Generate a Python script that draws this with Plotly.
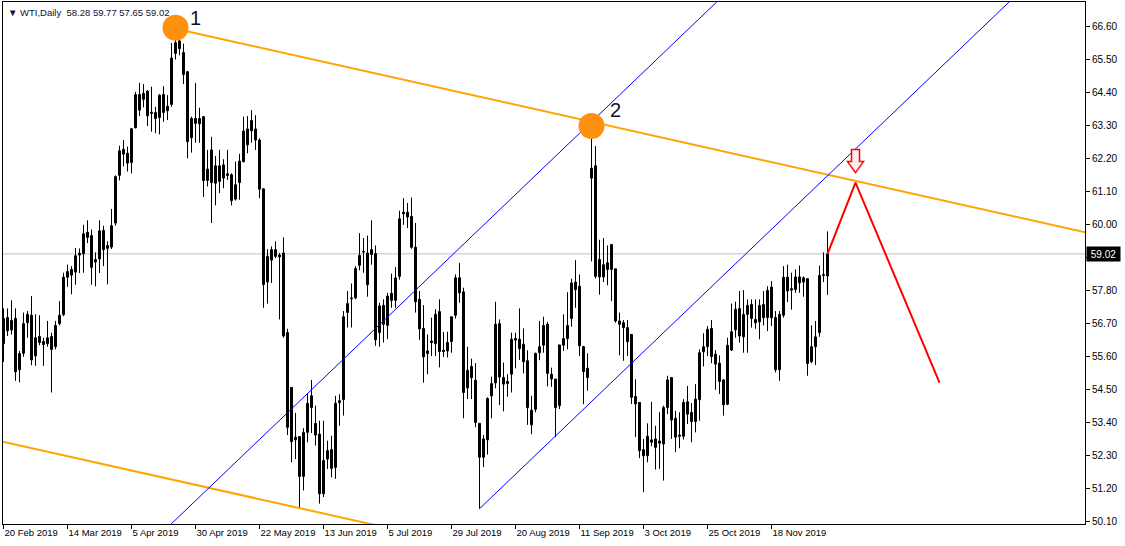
import plotly.graph_objects as go

# ---------------- data ----------------
opens = [56.02,56.89,56.48,56.86,55.15,55.70,56.72,56.97,55.61,56.26,56.09,56.02,56.26,55.92,56.69,56.99,58.24,58.50,58.41,58.98,
         59.02,59.74,59.63,58.75,58.85,59.80,59.20,59.25,60.05,61.64,62.51,62.38,62.07,63.23,64.34,64.18,64.45,63.75,63.74,63.57,
         64.34,63.80,64.01,65.71,66.13,65.74,65.10,62.90,63.54,63.36,63.60,61.47,61.40,61.96,61.44,61.99,61.69,61.66,60.85,61.40,
         62.10,62.66,63.47,62.82,62.82,61.19,58.08,58.81,59.16,58.98,59.05,56.39,54.56,52.90,52.92,51.59,53.06,54.28,53.36,53.00,
         51.01,52.17,52.48,51.89,54.05,54.15,57.06,57.52,57.55,58.64,59.08,59.05,59.16,59.03,56.39,57.30,56.63,57.70,57.47,58.27,
         60.41,60.41,60.27,59.24,57.50,56.53,55.69,56.11,56.02,57.09,55.80,55.78,56.09,56.97,58.22,57.75,54.54,55.26,54.80,53.36,
         52.23,52.81,54.28,54.71,56.69,54.89,54.69,55.00,56.14,56.17,56.00,55.45,53.31,53.83,55.72,55.97,56.67,55.00,54.84,53.95,
         55.97,56.19,56.86,58.08,57.94,55.92,55.20,61.55,61.96,58.83,58.25,58.72,59.33,58.52,56.78,56.72,56.56,56.33,54.26,54.06,
         52.48,52.28,52.73,52.84,52.77,52.67,53.89,54.89,53.53,52.97,52.93,54.08,53.73,53.42,54.15,55.75,55.92,56.53,55.67,55.37,
         54.81,54.00,55.81,56.48,57.19,56.25,57.00,57.33,56.83,56.75,57.33,56.89,57.91,56.89,55.15,56.97,58.24,57.81,57.83,58.25,
         58.08,58.19,55.42,55.92,56.39,58.33,58.28]
highs = [57.20,57.20,57.47,57.20,55.78,57.06,57.11,57.61,57.00,56.97,56.22,56.78,56.39,56.78,57.44,58.39,58.66,58.61,59.22,59.20,
         59.99,60.14,59.83,59.07,60.14,59.96,59.44,60.52,61.64,62.63,62.82,62.60,63.21,64.43,64.73,64.69,64.49,64.60,63.93,64.35,
         64.62,64.32,66.06,66.54,66.37,66.04,65.13,63.60,64.73,63.90,63.62,62.49,62.93,62.29,62.49,62.18,62.49,61.71,62.10,62.36,
         63.60,63.62,63.82,63.65,62.88,61.21,59.18,59.27,59.44,59.05,59.57,56.52,54.56,53.71,52.92,53.20,54.37,54.81,53.95,53.45,
         53.45,52.78,52.95,54.28,54.33,57.11,57.78,58.03,58.61,59.71,59.55,59.63,60.14,59.30,57.39,57.50,57.72,58.36,58.58,60.46,
         60.88,60.72,60.90,60.05,57.78,57.31,56.33,56.89,57.17,57.50,56.41,56.42,56.92,58.33,58.72,57.89,55.92,55.52,55.37,53.36,
         52.97,54.23,54.92,57.42,56.83,55.39,55.00,56.39,56.39,57.20,56.53,55.80,54.28,55.72,56.78,56.92,56.75,55.22,54.84,55.98,
         57.00,57.74,58.19,58.81,58.33,55.95,55.70,63.43,62.62,59.49,59.55,59.30,59.33,58.52,57.06,56.81,56.81,56.33,54.83,54.06,
         52.84,53.36,54.08,53.28,53.73,53.95,54.95,54.91,53.78,53.73,54.17,54.61,54.04,54.67,55.83,56.37,56.61,56.81,55.81,55.63,
         54.84,56.22,57.36,57.42,57.78,57.81,57.50,57.50,57.50,57.50,57.78,57.94,58.11,57.11,57.11,58.61,58.66,58.39,58.50,58.63,
         58.27,58.19,56.63,56.78,58.63,59.07,59.77]
lows = [55.41,56.28,56.33,54.78,54.73,55.58,56.22,55.30,55.28,55.97,55.28,55.92,54.39,55.83,56.63,56.94,57.92,57.67,57.99,58.38,
        58.39,59.38,57.99,57.94,58.38,58.61,58.00,59.18,59.96,61.47,61.94,61.77,61.71,63.21,63.62,63.91,63.29,63.10,63.05,63.01,
        63.43,63.49,63.93,65.51,65.65,64.69,62.21,62.40,62.73,62.73,60.92,61.27,60.05,60.64,61.05,61.21,61.49,60.64,60.80,60.83,
        62.07,62.38,62.73,62.49,60.88,57.22,57.36,58.05,58.88,56.83,56.22,52.97,52.06,52.17,50.53,51.12,52.73,53.04,52.62,50.68,
        50.90,51.84,51.56,51.51,53.28,53.62,56.56,56.56,57.50,58.47,58.39,57.59,58.66,55.95,55.92,56.06,56.17,57.22,57.22,58.16,
        59.99,59.88,59.19,57.06,56.15,54.72,55.00,55.61,55.61,55.23,55.58,55.56,55.72,56.86,57.39,53.53,54.17,54.17,53.23,50.51,
        51.90,52.32,53.53,54.53,53.97,53.76,54.25,54.39,55.20,55.48,55.03,53.31,53.00,53.73,55.47,55.72,54.60,54.58,52.90,53.84,
        55.78,55.83,56.59,57.22,55.61,54.00,54.45,58.77,58.20,57.66,58.08,57.97,57.44,56.72,55.63,55.45,55.61,54.01,52.90,52.20,
        51.06,52.06,52.60,51.82,51.84,51.45,53.67,52.84,52.40,52.53,52.82,53.34,52.73,53.06,53.45,55.26,55.61,55.37,54.48,54.34,
        53.62,53.97,55.78,56.22,56.06,55.72,55.72,56.56,56.52,56.17,56.63,56.44,56.61,55.06,54.78,56.89,57.41,57.16,57.72,57.72,
        57.59,54.95,55.37,55.31,56.25,58.08,57.65]
closes = [56.86,56.45,56.80,55.08,55.69,56.69,57.00,55.48,56.22,56.06,55.99,56.22,55.83,56.63,56.97,58.24,58.43,58.31,58.96,59.04,
          59.69,59.57,58.57,58.83,59.79,59.16,59.30,59.96,61.60,62.46,62.35,62.05,63.20,64.34,63.82,64.38,63.63,63.71,63.54,64.32,
          63.74,63.95,65.56,66.07,65.87,65.01,62.77,63.54,63.38,63.54,61.47,61.85,62.49,61.38,61.96,61.55,61.64,60.80,61.33,62.12,
          63.12,63.19,63.13,63.19,61.18,58.00,58.94,59.16,58.94,58.92,56.28,53.23,52.75,52.81,51.59,53.06,54.03,53.89,52.97,51.01,
          52.12,52.45,51.86,54.03,54.12,56.92,57.36,57.55,58.53,58.97,59.10,57.99,59.00,56.15,57.28,56.67,57.61,57.47,58.22,60.19,
          60.36,60.25,59.24,57.42,56.52,55.58,55.78,56.06,57.00,55.76,55.76,56.06,56.92,58.22,57.72,54.39,55.13,54.89,53.39,52.23,
          52.84,54.19,54.69,56.67,54.91,54.67,54.76,56.17,56.20,55.86,55.42,53.89,53.80,55.70,55.92,56.63,55.03,54.84,53.89,55.98,
          56.19,56.63,58.05,57.83,55.95,55.09,54.89,61.88,58.27,58.25,58.66,58.50,58.50,56.78,56.67,56.56,56.09,54.23,54.01,52.45,
          52.28,52.93,52.81,52.56,52.70,53.89,54.81,53.47,52.90,52.93,54.06,53.67,53.42,54.17,55.72,55.92,56.50,55.59,55.34,54.76,
          53.98,55.97,56.42,57.17,56.28,57.00,57.30,56.86,56.72,57.30,56.89,57.80,56.89,55.15,57.00,58.24,57.78,57.86,58.25,58.05,
          58.22,55.36,55.92,56.25,58.30,58.30,59.02]

date_tick_labels = ["20 Feb 2019", "14 Mar 2019", "5 Apr 2019", "30 Apr 2019", "22 May 2019", "13 Jun 2019",
                    "5 Jul 2019", "29 Jul 2019", "20 Aug 2019", "11 Sep 2019", "3 Oct 2019", "25 Oct 2019", "18 Nov 2019"]
bars_per_label = 16
price_ticks = [50.10, 51.20, 52.30, 53.40, 54.50, 55.60, 56.70, 57.80, 58.90, 60.00,
               61.10, 62.20, 63.30, 64.40, 65.50, 66.60]

# drawing anchors (bar index, price) for the analysis objects
point1 = (43, 66.54)          # high marked "1"
point2 = (147, 63.43)         # high marked "2"
marker_x = [43, 147]          # the orange circles
marker_y = [66.57, 63.29]
channel_low = (74, 50.53)     # low the lower orange parallel passes through
blue_low = (119, 50.51)       # low the lower blue line starts from
blue_slope = 0.1278           # price per bar of the blue channel
forecast_x = [206, 213, 234]
forecast_y = [59.02, 61.40, 54.72]

symbol = "WTI,Daily"

# ---------------- figure ----------------
n = len(closes)
idx = list(range(n))
X0, X1 = -0.125, 270.375
Y0, Y1 = 50.00, 67.43

fig = go.Figure()

# wicks
wx, wy = [], []
for i in idx:
    wx += [i, i, None]
    wy += [lows[i], highs[i], None]
fig.add_trace(go.Scatter(x=wx, y=wy, mode="lines", line=dict(color="black", width=1),
                         hoverinfo="skip", showlegend=False))

# bodies
base = [min(o, c) for o, c in zip(opens, closes)]
height = [max(abs(c - o), 0.012) for o, c in zip(opens, closes)]
fills = ["white" if c >= o else "black" for o, c in zip(opens, closes)]
fig.add_trace(go.Bar(x=idx, y=height, base=base, width=0.5,
                     marker=dict(color=fills, line=dict(color="black", width=1)),
                     hoverinfo="skip", showlegend=False))

# upper orange line through points 1 and 2, extended right
slope_o = (point2[1] - point1[1]) / (point2[0] - point1[0])
def orange(x):
    return point1[1] + slope_o * (x - point1[0])
fig.add_trace(go.Scatter(x=[point1[0], X1 + 1], y=[orange(point1[0]), orange(X1 + 1)], mode="lines",
                         line=dict(color="#FFA500", width=2), hoverinfo="skip", showlegend=False))
# lower parallel orange line
off = orange(channel_low[0]) - channel_low[1]
fig.add_trace(go.Scatter(x=[X0 - 1, 140], y=[orange(X0 - 1) - off, orange(140) - off], mode="lines",
                         line=dict(color="#FFA500", width=2), hoverinfo="skip", showlegend=False))

# blue channel
def blue_a(x):
    return point2[1] + blue_slope * (x - point2[0])
def blue_b(x):
    return blue_low[1] + blue_slope * (x - blue_low[0])
fig.add_trace(go.Scatter(x=[30, 190], y=[blue_a(30), blue_a(190)], mode="lines",
                         line=dict(color="#0000FF", width=1), hoverinfo="skip", showlegend=False))
fig.add_trace(go.Scatter(x=[blue_low[0], 275], y=[blue_b(blue_low[0]), blue_b(275)], mode="lines",
                         line=dict(color="#0000FF", width=1), hoverinfo="skip", showlegend=False))

# forecast path
fig.add_trace(go.Scatter(x=forecast_x, y=forecast_y, mode="lines",
                         line=dict(color="#FF0000", width=2), hoverinfo="skip", showlegend=False))

# marked points
fig.add_trace(go.Scatter(x=marker_x, y=marker_y, mode="markers",
                         marker=dict(size=26, color="#FF9010", line=dict(width=0)),
                         hoverinfo="skip", showlegend=False))

# current price line
last = closes[-1]
fig.add_shape(type="line", xref="paper", x0=0, x1=1, yref="y", y0=last, y1=last,
              line=dict(color="#C0C0C0", width=1), layer="below")

# hollow down arrow above the forecast peak (pixel-sized, anchored to the peak)
fig.add_shape(type="path", xref="x", yref="y", xsizemode="pixel", ysizemode="pixel",
              xanchor=forecast_x[1], yanchor=forecast_y[1],
              path="M 0,10 L -8,21 L -4,21 L -4,33 L 4,33 L 4,21 L 8,21 Z",
              line=dict(color="#FF0000", width=1.5), fillcolor="#FFF0F0")

font_fam = "'Liberation Sans', Arial, sans-serif"
anns = [
    dict(x=marker_x[0], y=marker_y[0], text="1", showarrow=False, xshift=20, yshift=10,
         font=dict(family=font_fam, size=20, color="#101028")),
    dict(x=marker_x[1], y=marker_y[1], text="2", showarrow=False, xshift=24, yshift=16,
         font=dict(family=font_fam, size=20, color="#101028")),
    dict(xref="paper", yref="paper", x=0, y=1, xanchor="left", yanchor="top", xshift=3, yshift=-3,
         text="▼ " + symbol + "  " + " ".join(f"{v:.2f}" for v in (opens[-1], highs[-1], lows[-1], closes[-1])),
         showarrow=False, font=dict(family=font_fam, size=9.5, color="#101030")),
    dict(xref="paper", yref="y", x=1, y=last, xanchor="left", yanchor="middle", xshift=1,
         text=f"{last:.2f}", showarrow=False, bgcolor="black", borderpad=0, width=33, height=14,
         font=dict(family=font_fam, size=10, color="white")),
]
fig.update_layout(annotations=anns)

fig.update_layout(
    width=1125, height=546,
    margin=dict(l=3, r=40, t=2, b=22, autoexpand=False),
    paper_bgcolor="white", plot_bgcolor="white",
    showlegend=False,
    xaxis=dict(range=[X0, X1], showgrid=False, zeroline=False, showline=True, linecolor="black",
               linewidth=1, mirror=True, ticks="outside", ticklen=4, tickcolor="black",
               tickvals=[k * bars_per_label for k in range(len(date_tick_labels))],
               ticktext=date_tick_labels, ticklabelposition="outside right", tickangle=0,
               automargin=False,
               tickfont=dict(family=font_fam, size=9.5, color="black"), fixedrange=True),
    yaxis=dict(range=[Y0, Y1], side="right", showgrid=False, zeroline=False, showline=True,
               linecolor="black", linewidth=1, mirror=True, ticks="outside", ticklen=4,
               tickcolor="black", tickvals=price_ticks, ticktext=[f"{v:.2f}" for v in price_ticks],
               automargin=False,
               tickfont=dict(family=font_fam, size=10, color="black"), fixedrange=True),
)

fig.write_html("out.html", config={"displayModeBar": False},
               post_script="document.body.style.margin='0';document.body.style.padding='0';")
